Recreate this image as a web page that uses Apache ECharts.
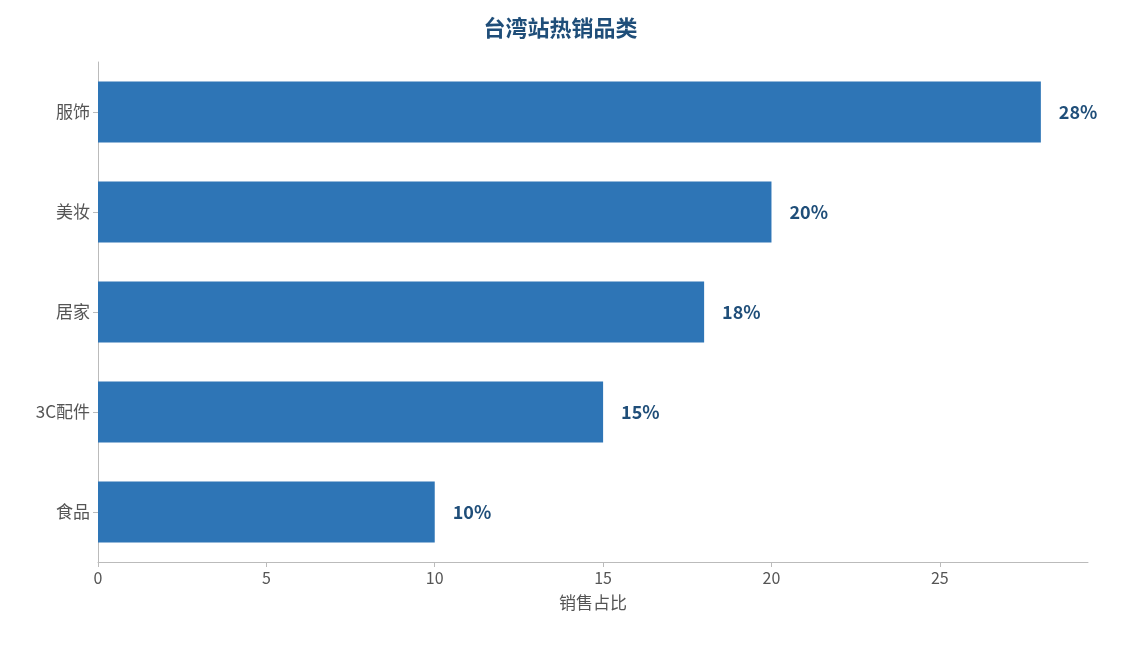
<!DOCTYPE html>
<html><head><meta charset="utf-8">
<script src="https://cdn.jsdelivr.net/npm/echarts@6/dist/echarts.min.js"></script>
<style>html,body{margin:0;padding:0;background:#fff}#c{width:1121px;height:645px}</style>
</head><body><div id="c"></div>
<script>
const categories = ['服饰','美妆','居家','3C配件','食品'];
const values = [28,20,18,15,10];
const chart = echarts.init(document.getElementById('c'));
const font = '"Noto Sans CJK SC","Noto Sans",sans-serif';
chart.setOption({
  textStyle:{fontFamily:font},
  title:{text:'台湾站热销品类',left:'center',top:12,textStyle:{fontSize:22,fontWeight:'bold',color:'#1F4E79',fontFamily:font}},
  grid:{left:98,right:33,top:62,bottom:83},
  xAxis:{type:'value',min:0,max:29.4,interval:5,name:'销售占比',nameLocation:'middle',nameGap:32,
    nameTextStyle:{fontSize:17,color:'#555'},
    axisLine:{show:true,lineStyle:{color:'#bbb'}},axisTick:{show:true,lineStyle:{color:'#bbb'}},
    axisLabel:{fontSize:16,color:'#555',showMaxLabel:false},splitLine:{show:false}},
  yAxis:{type:'category',inverse:true,data:categories,
    axisLine:{lineStyle:{color:'#bbb'}},axisTick:{show:true,alignWithLabel:true,lineStyle:{color:'#bbb'}},
    axisLabel:{fontSize:17,color:'#555'}},
  series:[{type:'bar',data:values,barWidth:61,itemStyle:{color:'#2E75B6'},
    label:{show:true,position:'right',distance:18,formatter:'{c}%',fontSize:18,fontWeight:'bold',color:'#1F4E79'}}]
});
</script></body></html>
